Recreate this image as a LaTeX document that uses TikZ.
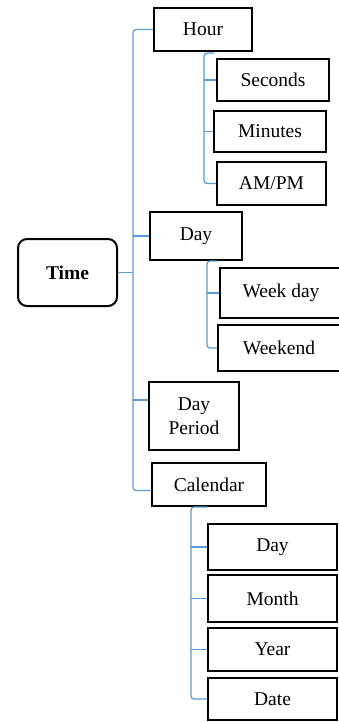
\documentclass[tikz,border=0pt]{standalone}
\usepackage{fontspec}
\setmainfont{Liberation Serif}
\definecolor{linkblue}{RGB}{91,155,213}
\tikzset{
  box/.style={draw=black, line width=2pt, rectangle, inner sep=0pt, align=center,
    font=\fontsize{19.5}{24}\selectfont},
  rootbox/.style={box, rounded corners=9pt, font=\fontsize{19.5}{24}\selectfont\bfseries},
  link/.style={draw=linkblue, line width=1.3pt, rounded corners=3pt},
}
\begin{document}
\begin{tikzpicture}[x=1pt, y=-1pt]
\useasboundingbox (0,0) rectangle (339,722);

% root
\node[rootbox, minimum width=99pt, minimum height=67pt] (time) at (67.5,272.5) {Time};

% first level
\node[box, minimum width=98pt,  minimum height=43pt] (hour)   at (203,29.5)  {Hour};
\node[box, minimum width=92pt,  minimum height=48pt] (day)    at (196,236)   {Day};
\node[box, minimum width=90pt,  minimum height=68pt] (period) at (194,416)   {Day\\Period};
\node[box, minimum width=114pt, minimum height=43pt] (cal)    at (209,484.5) {Calendar};

% under Hour
\node[box, minimum width=112pt, minimum height=42pt] (sec)  at (273,80)      {Seconds};
\node[box, minimum width=112pt, minimum height=41pt] (min)  at (270,131.5)   {Minutes};
\node[box, minimum width=109pt, minimum height=43pt] (ampm) at (271.5,183.5) {AM/PM};

% under Day
\node[box, minimum width=122pt, minimum height=50pt] (wday) at (281,293) {Week day};
\node[box, minimum width=122pt, minimum height=46pt] (wend) at (279,348) {Weekend};

% under Calendar
\node[box, minimum width=129pt, minimum height=46pt] (cday)  at (272.5,547)   {Day};
\node[box, minimum width=129pt, minimum height=47pt] (month) at (272.5,598.5) {Month};
\node[box, minimum width=129pt, minimum height=43pt] (year)  at (272.5,649.5) {Year};
\node[box, minimum width=129pt, minimum height=42pt] (date)  at (272.5,699)   {Date};

% spines
\coordinate (trunk) at (133,0);
\coordinate (hourtop) at (214,53);
\coordinate (hourspine) at (204,53);
\coordinate (daytop) at (217,261);
\coordinate (dayspine) at (207,261);
\coordinate (caltop) at (207,507);
\coordinate (calspine) at (191,507);

% main trunk
\draw[link] (hour.west) -- (hour.west -| trunk) |- ([yshift=-6pt]cal.west);
\draw[link] (time.east) -- (time.east -| trunk);
\draw[link] (day.west -| trunk) -- (day.west);
\draw[link] ([yshift=16pt]period.west -| trunk) -- ([yshift=16pt]period.west);

% Hour branch
\draw[link] (hourtop) -- (hourspine) |- (ampm.west);
\draw[link] (hourspine |- sec.west) -- (sec.west);
\draw[link] (hourspine |- min.west) -- (min.west);

% Day branch
\draw[link] (daytop) -- (dayspine) |- (wend.west);
\draw[link] (dayspine |- wday.west) -- (wday.west);

% Calendar branch
\draw[link] (caltop) -- (calspine) |- (date.west);
\draw[link] (calspine |- cday.west) -- (cday.west);
\draw[link] (calspine |- month.west) -- (month.west);
\draw[link] (calspine |- year.west) -- (year.west);
\end{tikzpicture}
\end{document}
